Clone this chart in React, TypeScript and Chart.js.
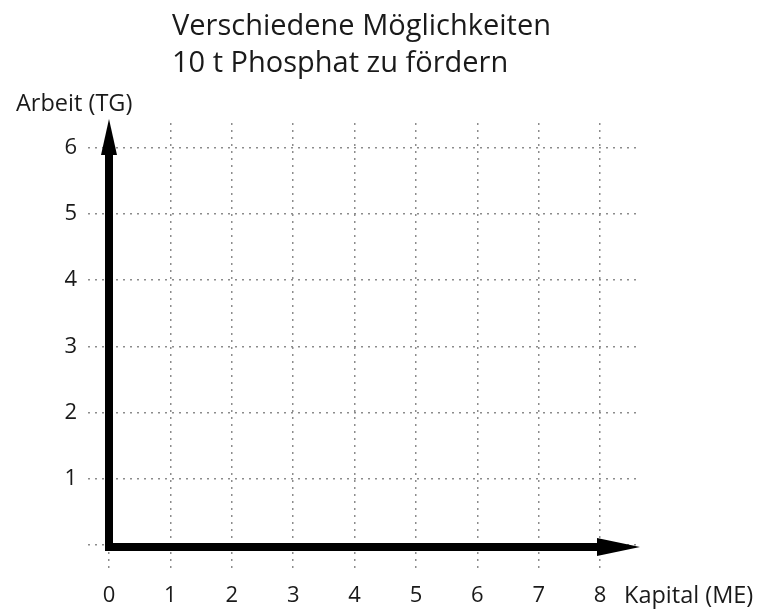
import React, { useEffect, useRef } from 'react';
import { Chart, registerables } from 'chart.js';

Chart.register(...registerables);

const titleLines = ['Verschiedene Möglichkeiten', '10 t Phosphat zu fördern'];
const xTickValues = [0, 1, 2, 3, 4, 5, 6, 7, 8];
const yTickValues = [0, 1, 2, 3, 4, 5, 6];
const xAxisTitle = 'Kapital (ME)';
const yAxisTitle = 'Arbeit (TG)';
const xRangeMax = 8.6;
const yRangeMax = 6.37;

const FONT = '"Open Sans", "Noto Sans", sans-serif';
const GRID = '#8c8c8c';

const decorPlugin = {
  id: 'decor',
  afterDraw(chart: any) {
    const { ctx, chartArea, scales } = chart;
    const x0 = scales.x.getPixelForValue(0);
    const y0 = scales.y.getPixelForValue(0);
    const lw = 8;
    const yTip = chartArea.top - 4;
    const yHead = 36;
    const xTip = chartArea.right + 3;
    const xHead = 43;
    ctx.save();
    ctx.strokeStyle = '#000';
    ctx.fillStyle = '#000';
    ctx.lineWidth = lw;
    ctx.lineJoin = 'miter';
    ctx.lineCap = 'butt';
    ctx.beginPath();
    ctx.moveTo(x0, yTip + yHead - 2);
    ctx.lineTo(x0, y0 + 2);
    ctx.lineTo(xTip - xHead + 2, y0 + 2);
    ctx.stroke();
    // y arrow head
    ctx.beginPath();
    ctx.moveTo(x0, yTip);
    ctx.lineTo(x0 + 8, yTip + yHead);
    ctx.lineTo(x0 - 8, yTip + yHead);
    ctx.closePath();
    ctx.fill();
    // x arrow head
    ctx.beginPath();
    ctx.moveTo(xTip, y0 + 2);
    ctx.lineTo(xTip - xHead, y0 + 2 - 9);
    ctx.lineTo(xTip - xHead, y0 + 2 + 9);
    ctx.closePath();
    ctx.fill();

    ctx.fillStyle = '#1a1a1a';
    ctx.textAlign = 'left';
    ctx.textBaseline = 'alphabetic';
    ctx.font = `29px ${FONT}`;
    ctx.fillText(titleLines[0], 172, 35);
    ctx.fillText(titleLines[1], 172, 72);

    ctx.font = `23.5px ${FONT}`;
    ctx.fillText(yAxisTitle, 16, 111);
    ctx.textBaseline = 'middle';
    ctx.fillText(xAxisTitle, 624, scales.x.top + 51);
    ctx.restore();
  },
};

export default function App() {
  const ref = useRef<HTMLCanvasElement>(null);
  useEffect(() => {
    if (!ref.current) return;
    const chart = new Chart(ref.current, {
      type: 'scatter',
      data: { datasets: [{ data: [] as any[] }] },
      options: {
        animation: false,
        responsive: false,
        events: [],
        layout: { padding: { left: 0, right: 126, top: 123, bottom: 0 } },
        plugins: { legend: { display: false }, tooltip: { enabled: false }, title: { display: false } },
        scales: {
          x: {
            type: 'linear',
            min: 0,
            max: xRangeMax,
            afterFit: (s: any) => { s.height = 67; },
            afterBuildTicks: (s: any) => { s.ticks = xTickValues.map((v) => ({ value: v })); },
            border: { display: false, dash: [2, 5] },
            grid: {
              color: GRID,
              lineWidth: 1.5,
              tickLength: 26,
              tickColor: GRID,
              tickBorderDash: [2, 5],
            } as any,
            ticks: {
              padding: 12,
              color: '#1a1a1a',
              font: { family: FONT, size: 22 },
              maxRotation: 0,
              callback: (v: any) => String(v),
            },
          },
          y: {
            type: 'linear',
            min: 0,
            max: yRangeMax,
            afterFit: (s: any) => { s.width = 109; },
            afterBuildTicks: (s: any) => { s.ticks = yTickValues.map((v) => ({ value: v })); },
            border: { display: false, dash: [2, 5] },
            grid: {
              color: GRID,
              lineWidth: 1.5,
              tickLength: 21,
              tickColor: GRID,
              tickBorderDash: [2, 5],
            } as any,
            ticks: {
              padding: 11,
              color: '#1a1a1a',
              font: { family: FONT, size: 22 },
              callback: (v: any) => (v === 0 ? '' : String(v)),
            },
          },
        },
      },
      plugins: [decorPlugin],
    });
    return () => chart.destroy();
  }, []);
  return (
    <div style={{ position: 'fixed', left: 0, top: 0, width: 763, height: 612 }}>
      <canvas ref={ref} width={763} height={612} style={{ display: 'block' }} />
    </div>
  );
}
